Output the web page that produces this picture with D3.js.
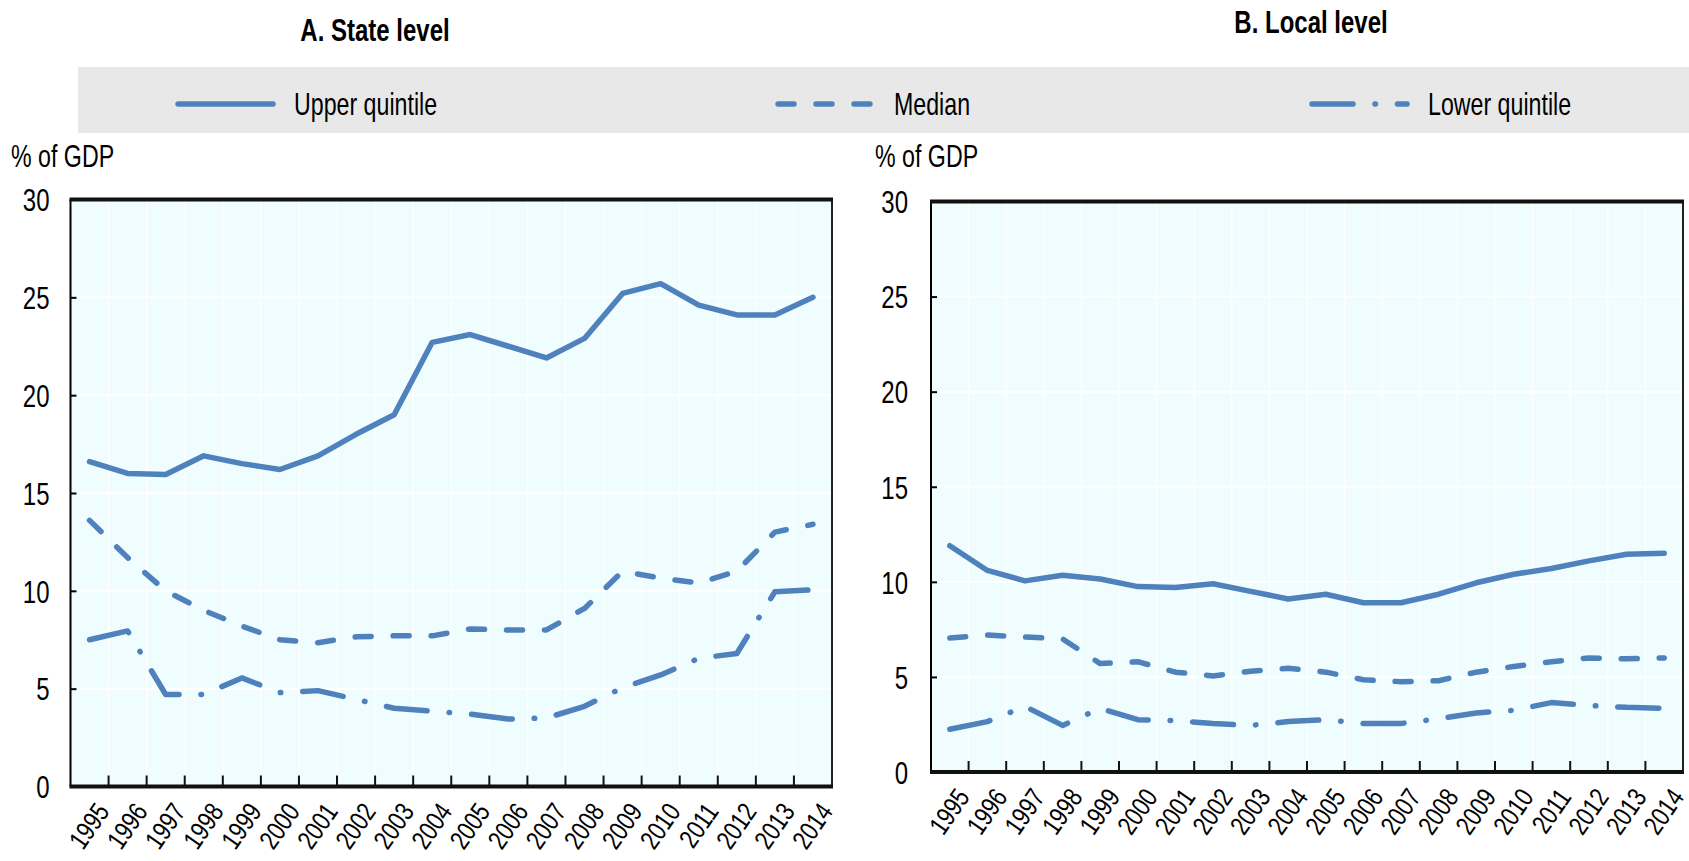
<!DOCTYPE html>
<html>
<head>
<meta charset="utf-8">
<script src="https://cdn.jsdelivr.net/npm/d3@7"></script>
<style>
  body { margin: 0; background: #fff; }
  text { font-family: "Liberation Sans", Arial, sans-serif; fill: #000; }
</style>
</head>
<body>
<script>
// chart values
var years = ["1995", "1996", "1997", "1998", "1999", "2000", "2001", "2002", "2003", "2004",
             "2005", "2006", "2007", "2008", "2009", "2010", "2011", "2012", "2013", "2014"]
var yTicks = [0, 5, 10, 15, 20, 25, 30]
var seriesNames = ["Upper quintile", "Median", "Lower quintile"]

var stateUpper  = [16.6, 16.0, 15.95, 16.9, 16.5, 16.2, 16.9, 18.0, 19.0, 22.7, 23.1, 22.5, 21.9, 22.9, 25.2, 25.7, 24.6, 24.1, 24.1, 25.0]
var stateMedian = [13.6, 11.7, 10.0, 9.0, 8.2, 7.5, 7.35, 7.65, 7.7, 7.7, 8.05, 8.0, 8.0, 9.1, 11.0, 10.65, 10.4, 11.0, 13.0, 13.4]
var stateLower  = [7.5, 7.95, 4.7, 4.7, 5.55, 4.8, 4.9, 4.45, 4.0, 3.85, 3.7, 3.45, 3.5, 4.1, 5.05, 5.7, 6.55, 6.8, 9.95, 10.05]

var localUpper  = [11.9, 10.6, 10.05, 10.35, 10.15, 9.75, 9.7, 9.9, 9.5, 9.1, 9.35, 8.9, 8.9, 9.35, 9.95, 10.4, 10.7, 11.1, 11.45, 11.5]
var localMedian = [7.05, 7.2, 7.1, 7.0, 5.7, 5.8, 5.25, 5.05, 5.3, 5.45, 5.25, 4.85, 4.75, 4.8, 5.25, 5.55, 5.8, 6.0, 5.95, 6.0]
var localLower  = [2.25, 2.65, 3.45, 2.45, 3.35, 2.75, 2.7, 2.55, 2.45, 2.65, 2.75, 2.55, 2.55, 2.8, 3.1, 3.25, 3.65, 3.5, 3.4, 3.35]

var width = 1689,
    height = 861
var blue = "#4f81bd"
var dashes = ["none", "16,22", "41,22,0.5,22"]
var narrow = 0.8,   // squeeze Liberation Sans into an Arial Narrow look
    tall = 1.06

var svg = d3.select("body").append("svg")
    .attr("width", width)
    .attr("height", height)

// text placed at (x, y) and squeezed horizontally
function addText(parent, x, y, str, size) {
    return parent.append("text")
        .attr("transform", `translate(${x},${y}) scale(${narrow},${tall})`)
        .style("font-size", size + "px")
        .text(str)
}

// legend band across the top
svg.append("rect")
    .attr("x", 78).attr("y", 67)
    .attr("width", width - 78).attr("height", 66)
    .attr("fill", "#e8e8e8")

var legendX = [178, 778, 1312]
seriesNames.forEach((name, i) => {
    svg.append("line")
        .attr("x1", legendX[i]).attr("x2", legendX[i] + 95)
        .attr("y1", 104).attr("y2", 104)
        .attr("stroke", blue)
        .attr("stroke-width", 5.5)
        .attr("stroke-linecap", "round")
        .attr("stroke-dasharray", dashes[i])
    addText(svg, legendX[i] + 116, 104, name, 29)
        .attr("dominant-baseline", "central")
})

var panels = [
    {title: "A. State level", values: [stateUpper, stateMedian, stateLower],
     left: 70.5, right: 832, top: 199.5, bottom: 786.5, titleX: 375, titleY: 41, unitX: 11, pad: 21},
    {title: "B. Local level", values: [localUpper, localMedian, localLower],
     left: 931, right: 1683, top: 201.5, bottom: 772, titleX: 1311, titleY: 33, unitX: 875, pad: 23}
]

panels.forEach(p => drawPanel(p))

function drawPanel(p) {
    var x = d3.scaleBand().domain(years).range([p.left, p.right])
    var y = d3.scaleLinear().domain([0, 30]).range([p.bottom, p.top])
    var cx = d => x(d) + x.bandwidth() / 2

    var g = svg.append("g")

    addText(g, p.titleX, p.titleY, p.title, 30)
        .attr("text-anchor", "middle")
        .style("font-weight", "bold")

    addText(g, p.unitX, 167, "% of GDP", 29)

    g.append("rect")
        .attr("x", p.left).attr("y", p.top)
        .attr("width", p.right - p.left).attr("height", p.bottom - p.top)
        .attr("fill", "#f0fdff")

    // white grid
    g.selectAll(".vgrid")
        .data(years.slice(1))
        .enter().append("line")
        .attr("x1", d => x(d)).attr("x2", d => x(d))
        .attr("y1", p.top).attr("y2", p.bottom)
        .attr("stroke", "#fff").attr("stroke-width", 1.2)
    g.selectAll(".hgrid")
        .data(yTicks.slice(1, -1))
        .enter().append("line")
        .attr("x1", p.left).attr("x2", p.right)
        .attr("y1", d => y(d)).attr("y2", d => y(d))
        .attr("stroke", "#fff").attr("stroke-width", 2)

    // y axis
    var yAxis = g.append("g")
        .attr("transform", `translate(${p.left},0)`)
        .call(d3.axisLeft(y).tickValues(yTicks).tickSize(-6).tickPadding(p.pad))
    yAxis.attr("font-family", null).attr("font-size", null)
    yAxis.select(".domain").remove()
    yAxis.selectAll(".tick line").attr("stroke", "#000").attr("stroke-width", 2)
    yAxis.selectAll(".tick text")
        .attr("x", null)
        .attr("dy", null)
        .attr("transform", `translate(${-p.pad},0) scale(${narrow},${tall})`)
        .attr("dominant-baseline", "central")
        .style("font-size", "30px")

    // frame
    g.append("line")
        .attr("x1", p.left).attr("x2", p.left)
        .attr("y1", p.top).attr("y2", p.bottom)
        .attr("stroke", "#000").attr("stroke-width", 2)
    g.append("line")
        .attr("x1", p.right).attr("x2", p.right)
        .attr("y1", p.top).attr("y2", p.bottom)
        .attr("stroke", "#222").attr("stroke-width", 2)
    g.append("line")
        .attr("x1", p.left - 1).attr("x2", p.right + 1)
        .attr("y1", p.top).attr("y2", p.top)
        .attr("stroke", "#111").attr("stroke-width", 4)
    g.append("line")
        .attr("x1", p.left - 1).attr("x2", p.right + 1)
        .attr("y1", p.bottom).attr("y2", p.bottom)
        .attr("stroke", "#111").attr("stroke-width", 4)

    // x ticks between categories, pointing up into the plot
    g.selectAll(".xtick")
        .data(years.slice(1))
        .enter().append("line")
        .attr("x1", d => x(d)).attr("x2", d => x(d))
        .attr("y1", p.bottom).attr("y2", p.bottom - 11)
        .attr("stroke", "#111").attr("stroke-width", 2)

    g.selectAll(".xlabel")
        .data(years)
        .enter().append("text")
        .attr("transform", d => `translate(${cx(d) + 5},${p.bottom + 14}) rotate(-55) scale(${narrow},1)`)
        .attr("text-anchor", "end")
        .attr("dy", "0.72em")
        .style("font-size", "27px")
        .text(d => d)

    var line = d3.line()
        .x((v, i) => cx(years[i]))
        .y(v => y(v))

    p.values.forEach((vals, i) => {
        g.append("path")
            .attr("d", line(vals))
            .attr("fill", "none")
            .attr("stroke", blue)
            .attr("stroke-width", 5.5)
            .attr("stroke-linejoin", "round")
            .attr("stroke-linecap", "round")
            .attr("stroke-dasharray", dashes[i])
    })
}
</script>
</body>
</html>
